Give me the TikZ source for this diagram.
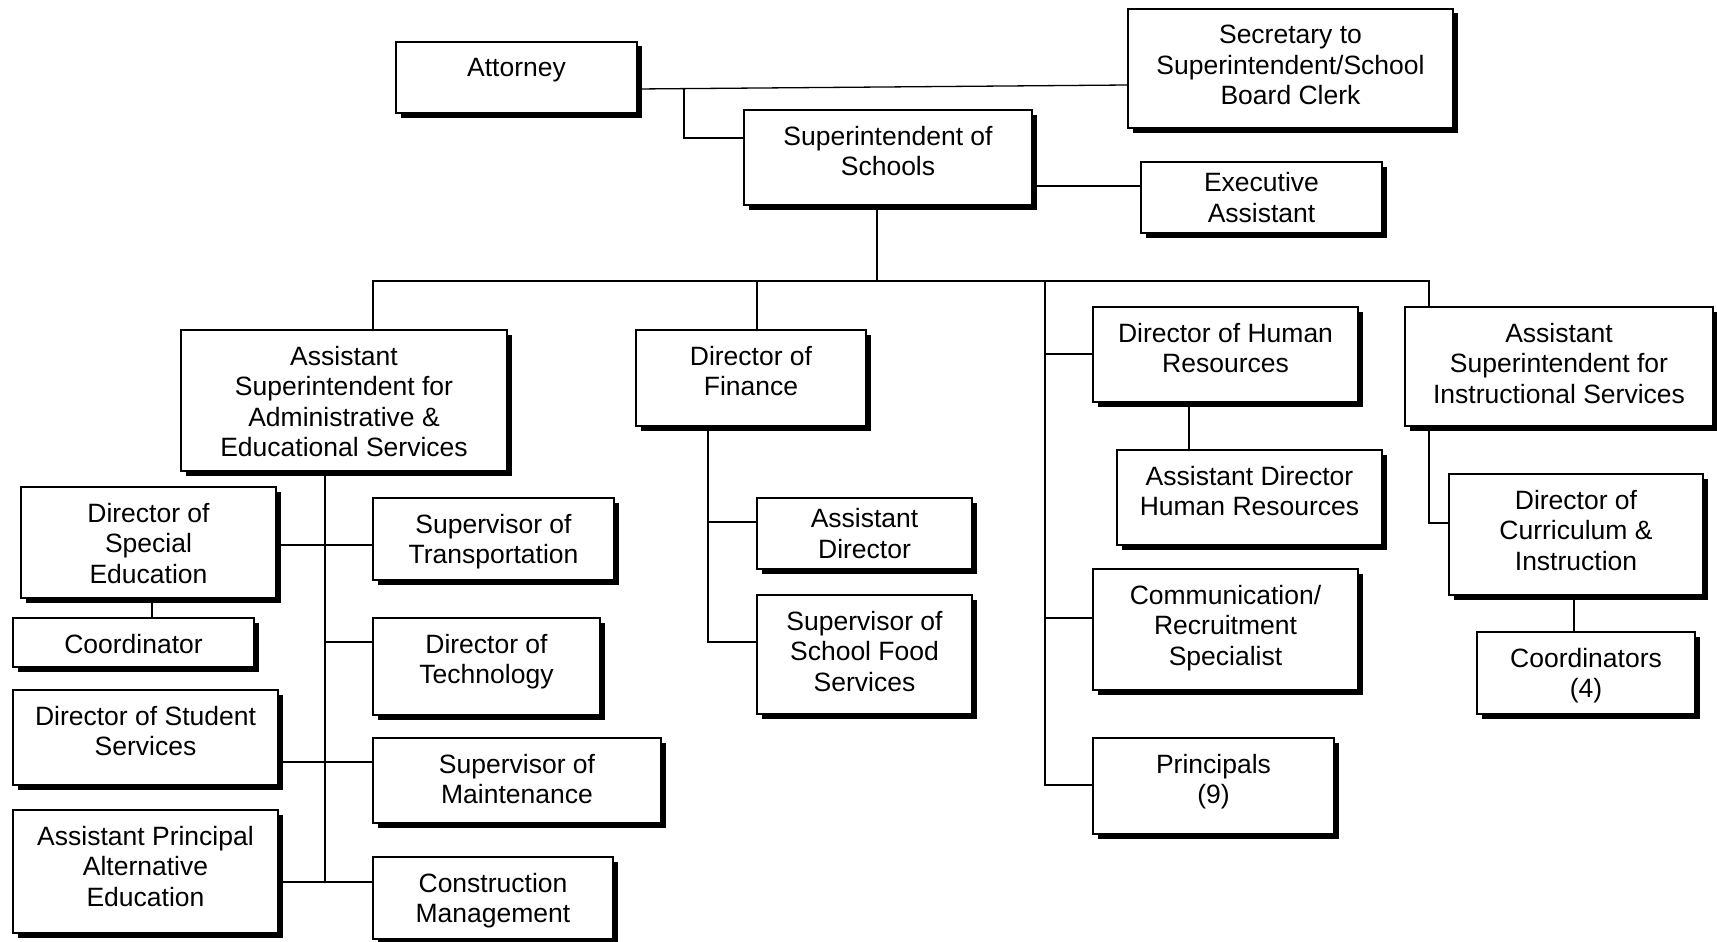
\documentclass[tikz,border=0pt]{standalone}
\usepackage{fontspec}
\setmainfont{Liberation Sans}
\usetikzlibrary{shadows}

\tikzset{
  orgbox/.style={draw, line width=1.3pt, fill=white, inner sep=0pt, outer sep=0pt,
    anchor=north west,
    drop shadow={shadow xshift=4.5pt, shadow yshift=-4.5pt, fill=black, opacity=1}},
  orgtext/.style={anchor=north, align=center, inner sep=0pt,
    font=\fontsize{26.5}{30.6}\selectfont},
  conn/.style={line width=1.3pt},
}

% [text drop], name, left, top, width, height, text
\newcommand\orgunit[7][15.7]{%
  \node[orgbox, minimum width=#5pt, minimum height=#6pt] (#2) at (#3,#4) {};
  \node[orgtext] (#2-t) at ([yshift=-#1pt]#2.north) {#7};
}

\begin{document}
\begin{tikzpicture}[x=1pt, y=-1pt]
\fill[white] (0,0) rectangle (1717,942);
\useasboundingbox (0,0) rectangle (1717,942);

% top level
\orgunit{att}{396}{42}{241}{71}{Attorney}
\orgunit{sec}{1128}{9}{325}{119}{Secretary to\\Superintendent/School\\Board Clerk}
\orgunit{sup}{744}{110}{288}{95}{Superintendent of\\Schools}
\orgunit[10.2]{exa}{1141}{162}{241}{71}{Executive\\Assistant}

% second level
\orgunit{asa}{181}{330}{326}{141}{Assistant\\Superintendent for\\Administrative \&\\Educational Services}
\orgunit{dfi}{636}{330}{230}{96}{Director of\\Finance}
\orgunit{dhr}{1093}{307}{265}{95}{Director of Human\\Resources}
\orgunit{asi}{1405}{307}{308}{119}{Assistant\\Superintendent for\\Instructional Services}

% administrative & educational services
\orgunit{dse}{21}{487}{255}{111}{Director of\\Special\\Education}
\orgunit{crd}{13}{618}{241}{49}{Coordinator}
\orgunit{dss}{13}{690}{265}{95}{Director of Student\\Services}
\orgunit{apa}{13}{810}{265}{123}{Assistant Principal\\Alternative\\Education}
\orgunit{stp}{373}{498}{241}{82}{Supervisor of\\Transportation}
\orgunit{dte}{373}{618}{227}{97}{Director of\\Technology}
\orgunit{smt}{373}{738}{288}{85}{Supervisor of\\Maintenance}
\orgunit{cmg}{373}{857}{240}{82}{Construction\\Management}

% finance
\orgunit[10.2]{adf}{757}{498}{215}{71}{Assistant\\Director}
\orgunit{ssf}{757}{595}{215}{119}{Supervisor of\\School Food\\Services}

% human resources and schools
\orgunit{adh}{1117}{450}{265}{95}{Assistant Director\\Human Resources}
\orgunit{com}{1093}{569}{265}{121}{Communication/\\Recruitment\\Specialist}
\orgunit{pri}{1093}{738}{241}{96}{Principals\\(9)}

% instructional services
\orgunit{dci}{1449}{474}{254}{121}{Director of\\Curriculum \&\\Instruction}
\orgunit{cds}{1477}{632}{218}{82}{Coordinators\\(4)}

% ---- connectors ----
\coordinate (aj) at (684,88.6);
\draw[conn] (att.east |- 0,89) -- (sec.west |- 0,85);
\draw[conn] (aj) |- (sup.west |- 0,138);
\draw[conn] (sup.east |- 0,186) -- (exa.west |- 0,186);

\coordinate (bus) at (877,281);
\draw[conn] (sup.south -| bus) -- (bus);
\draw[conn] (asa.north -| 373,0) -- (373,281) -- (1429,281) -- (asi.north -| 1429,0);
\draw[conn] (dfi.north -| 757,0) -- (757,281);

% schools spine
\coordinate (hs) at (1045,281);
\draw[conn] (hs) -- (1045,785) -- (pri.west |- 0,785);
\draw[conn] (1045,354) -- (dhr.west |- 0,354);
\draw[conn] (1045,618) -- (com.west |- 0,618);
\draw[conn] (dhr.south -| 1189,0) -- (adh.north -| 1189,0);

% administrative spine
\draw[conn] (asa.south -| 325,0) -- (325,882);
\draw[conn] (dse.east |- 0,545) -- (stp.west |- 0,545);
\draw[conn] (325,642) -- (dte.west |- 0,642);
\draw[conn] (dss.east |- 0,762) -- (smt.west |- 0,762);
\draw[conn] (apa.east |- 0,882) -- (cmg.west |- 0,882);
\draw[conn] (dse.south -| 152,0) -- (crd.north -| 152,0);

% finance spine
\draw[conn] (dfi.south -| 708,0) -- (708,642) -- (ssf.west |- 0,642);
\draw[conn] (708,522) -- (adf.west |- 0,522);

% instructional spine
\draw[conn] (asi.south -| 1429,0) |- (dci.west |- 0,523);
\draw[conn] (dci.south -| 1574,0) -- (cds.north -| 1574,0);
\end{tikzpicture}
\end{document}
